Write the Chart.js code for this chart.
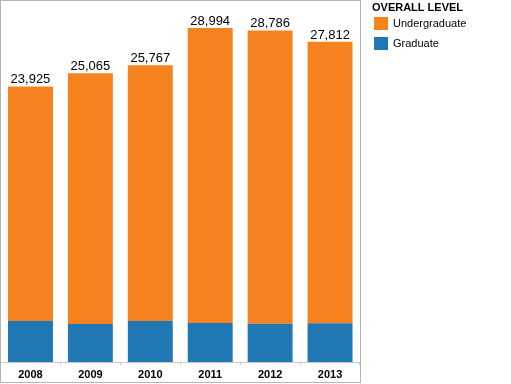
<!DOCTYPE html>
<html>
<head>
<meta charset="utf-8">
<script src="https://cdn.jsdelivr.net/npm/chart.js@4/dist/chart.umd.min.js"></script>
<style>
  html, body { margin: 0; padding: 0; background: #fff; }
  canvas { display: block; }
</style>
</head>
<body>
<canvas id="chart" width="511" height="384"></canvas>
<script>
const years = ['2008', '2009', '2010', '2011', '2012', '2013']
const graduate = [3550, 3290, 3560, 3390, 3310, 3370]
const undergraduate = [20375, 21775, 22207, 25604, 25476, 24442]
const totals = ['23,925', '25,065', '25,767', '28,994', '28,786', '27,812']
const legendTitle = 'OVERALL LEVEL'

const fontFamily = "'Liberation Sans', Arial, sans-serif"

// frame round the plot, value labels and the legend on the right
const decorations = {
    id: 'decorations',
    afterDatasetsDraw(chart) {
        const ctx = chart.ctx
        const area = chart.chartArea
        ctx.save()

        // totals above each stack
        const top = chart.getDatasetMeta(1)
        ctx.fillStyle = '#000'
        ctx.font = '13px ' + fontFamily
        ctx.textAlign = 'center'
        ctx.textBaseline = 'alphabetic'
        top.data.forEach((bar, i) => {
            ctx.fillText(totals[i], bar.x, bar.y - 3)
        })

        // outer frame
        ctx.strokeStyle = '#b4b4b4'
        ctx.lineWidth = 1
        ctx.strokeRect(0.5, 0.5, area.right, 382)

        // legend
        ctx.textAlign = 'left'
        ctx.textBaseline = 'middle'
        ctx.font = 'bold 11px ' + fontFamily
        ctx.fillStyle = '#000'
        ctx.fillText(legendTitle, 372, 8)
        const items = chart.data.datasets.slice().reverse()
        items.forEach((ds, i) => {
            const y = 17 + i * 20
            ctx.fillStyle = ds.backgroundColor
            ctx.fillRect(374, y, 14, 13)
            ctx.fillStyle = '#000'
            ctx.font = '11px ' + fontFamily
            ctx.fillText(ds.label, 393, y + 6.5)
        })
        ctx.restore()
    }
}

new Chart(document.getElementById('chart'), {
    type: 'bar',
    data: {
        labels: years,
        datasets: [
            {
                label: 'Graduate',
                data: graduate,
                backgroundColor: '#1f77b4',
                barPercentage: 0.75,
                categoryPercentage: 1
            },
            {
                label: 'Undergraduate',
                data: undergraduate,
                backgroundColor: '#f5821f',
                barPercentage: 0.75,
                categoryPercentage: 1
            }
        ]
    },
    plugins: [decorations],
    options: {
        responsive: false,
        animation: false,
        layout: { padding: { left: 0.5, top: 1, right: 151, bottom: 2 } },
        plugins: {
            legend: { display: false },
            tooltip: { enabled: false }
        },
        scales: {
            x: {
                stacked: true,
                afterFit: scale => { scale.height = 20 },
                grid: {
                    offset: true,
                    drawOnChartArea: false,
                    drawTicks: true,
                    tickLength: 3,
                    color: '#c8c8c8'
                },
                border: { color: '#c8c8c8' },
                ticks: {
                    color: '#000',
                    padding: 3,
                    font: { family: fontFamily, size: 11, weight: 'bold' }
                }
            },
            y: {
                stacked: true,
                display: false,
                min: 0,
                max: 31340
            }
        }
    }
})
</script>
</body>
</html>
